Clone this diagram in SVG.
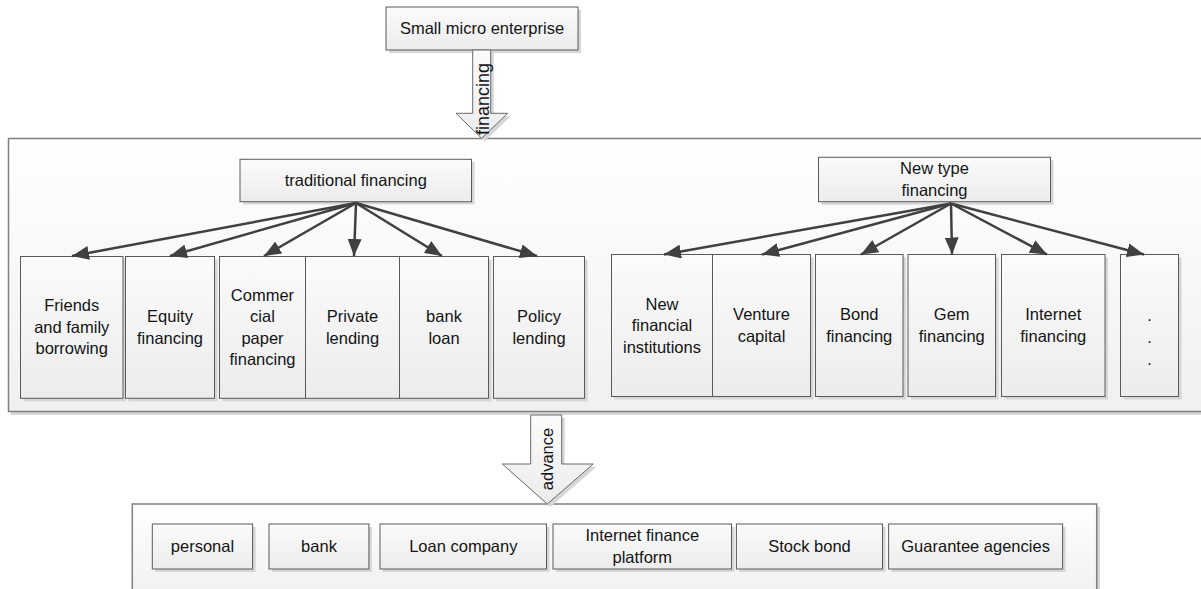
<svg xmlns="http://www.w3.org/2000/svg" width="1201" height="589" viewBox="0 0 1201 589">
<defs>
<linearGradient id="gBox" x1="0" y1="0" x2="0" y2="1">
<stop offset="0" stop-color="#fbfbfb"/><stop offset="1" stop-color="#ececec"/>
</linearGradient>
<linearGradient id="gCont" x1="0" y1="0" x2="0" y2="1">
<stop offset="0" stop-color="#ffffff"/><stop offset="1" stop-color="#f0f0f0"/>
</linearGradient>
<marker id="ah" markerWidth="17" markerHeight="14" refX="17" refY="7" orient="auto" markerUnits="userSpaceOnUse">
<path d="M0,0 L17,7 L0,14 z" fill="#404040"/>
</marker>
</defs>
<style>
.box{fill:url(#gBox);stroke:#5a5a5a;stroke-width:1}
.cont{fill:url(#gCont);stroke:#808080;stroke-width:1.5}
.sh{fill:#d6d6d6}
.blk{fill:url(#gBox);stroke:#6a6a6a;stroke-width:1}
.t{font-family:"Liberation Sans",Arial,sans-serif;font-size:16.5px;fill:#141414;text-anchor:middle}
.lbl{font-family:"Liberation Sans",Arial,sans-serif;fill:#141414;text-anchor:middle}
.con{stroke:#404040;stroke-width:2.5;fill:none;marker-end:url(#ah)}
</style>
<rect width="1201" height="589" fill="#ffffff"/>

<g id="container-financing">
<rect class="sh" x="11" y="141" width="1195" height="274"/>
<rect class="cont" x="8.5" y="138.5" width="1195" height="273"/>
</g>
<g id="container-advance">
<rect class="sh" x="135" y="507" width="965" height="90"/>
<rect class="cont" x="132.3" y="504" width="964.4" height="95"/>
</g>

<g id="node-sme">
<rect class="sh" x="389" y="10" width="192" height="43"/>
<rect class="box" x="386" y="7" width="192" height="43"/>
<text class="t" x="482" y="34">Small micro enterprise</text>
</g>

<g id="node-traditional">
<rect class="sh" x="243" y="162" width="231.5" height="42.4"/>
<rect class="box" x="240" y="159.3" width="231.5" height="42.4"/>
<text class="t" x="355.75" y="186">traditional financing</text>
</g>

<g id="node-newtype">
<rect class="sh" x="821.5" y="160.3" width="232" height="44.4"/>
<rect class="box" x="818.5" y="157.3" width="232" height="44.4"/>
<text class="t" x="934.5" y="174.3">New type</text>
<text class="t" x="934.5" y="195.8">financing</text>
</g>

<g id="node-friends">
<rect class="sh" x="23.5" y="259.5" width="102.5" height="141.8"/>
<rect class="box" x="20.5" y="256.5" width="102.5" height="141.8"/>
<text class="t" x="71.75" y="311.4">Friends</text>
<text class="t" x="71.75" y="332.9">and family</text>
<text class="t" x="71.75" y="354.4">borrowing</text>
</g>
<g id="node-equity">
<rect class="sh" x="128.5" y="259.5" width="89" height="141.8"/>
<rect class="box" x="125.5" y="256.5" width="89" height="141.8"/>
<text class="t" x="170" y="322.2">Equity</text>
<text class="t" x="170" y="343.7">financing</text>
</g>
<g id="node-commercial">
<rect class="sh" x="222.5" y="259.5" width="86" height="141.8"/>
<rect class="box" x="219.5" y="256.5" width="86" height="141.8"/>
<text class="t" x="262.5" y="300.7">Commer</text>
<text class="t" x="262.5" y="322.2">cial</text>
<text class="t" x="262.5" y="343.7">paper</text>
<text class="t" x="262.5" y="365.2">financing</text>
</g>
<g id="node-private">
<rect class="sh" x="308.5" y="259.5" width="94" height="141.8"/>
<rect class="box" x="305.5" y="256.5" width="94" height="141.8"/>
<text class="t" x="352.5" y="322.2">Private</text>
<text class="t" x="352.5" y="343.7">lending</text>
</g>
<g id="node-bankloan">
<rect class="sh" x="402.5" y="259.5" width="89" height="141.8"/>
<rect class="box" x="399.5" y="256.5" width="89" height="141.8"/>
<text class="t" x="444" y="322.2">bank</text>
<text class="t" x="444" y="343.7">loan</text>
</g>
<g id="node-policy">
<rect class="sh" x="496.5" y="259.5" width="91" height="141.8"/>
<rect class="box" x="493.5" y="256.5" width="91" height="141.8"/>
<text class="t" x="539" y="322.2">Policy</text>
<text class="t" x="539" y="343.7">lending</text>
</g>

<g id="node-newfin">
<rect class="sh" x="614.5" y="257.5" width="101" height="142"/>
<rect class="box" x="611.5" y="254.5" width="101" height="142"/>
<text class="t" x="662" y="309.5">New</text>
<text class="t" x="662" y="331">financial</text>
<text class="t" x="662" y="352.5">institutions</text>
</g>
<g id="node-venture">
<rect class="sh" x="715.5" y="257.5" width="98" height="142"/>
<rect class="box" x="712.5" y="254.5" width="98" height="142"/>
<text class="t" x="761.5" y="320.3">Venture</text>
<text class="t" x="761.5" y="341.8">capital</text>
</g>
<g id="node-bond">
<rect class="sh" x="818.5" y="257.5" width="87.5" height="142"/>
<rect class="box" x="815.5" y="254.5" width="87.5" height="142"/>
<text class="t" x="859.25" y="320.3">Bond</text>
<text class="t" x="859.25" y="341.8">financing</text>
</g>
<g id="node-gem">
<rect class="sh" x="911" y="257.5" width="87.5" height="142"/>
<rect class="box" x="908" y="254.5" width="87.5" height="142"/>
<text class="t" x="951.75" y="320.3">Gem</text>
<text class="t" x="951.75" y="341.8">financing</text>
</g>
<g id="node-internet">
<rect class="sh" x="1004.5" y="257.5" width="103.5" height="142"/>
<rect class="box" x="1001.5" y="254.5" width="103.5" height="142"/>
<text class="t" x="1053.25" y="320.3">Internet</text>
<text class="t" x="1053.25" y="341.8">financing</text>
</g>
<g id="node-more">
<rect class="sh" x="1123.5" y="257.5" width="58" height="142"/>
<rect class="box" x="1120.5" y="254.5" width="58" height="142"/>
<text class="t" x="1149.5" y="320.5">.</text>
<text class="t" x="1149.5" y="342.5">.</text>
<text class="t" x="1149.5" y="364.5">.</text>
</g>

<g id="node-personal">
<rect class="sh" x="155.3" y="527" width="100.3" height="45"/>
<rect class="box" x="152.3" y="524" width="100.3" height="45"/>
<text class="t" x="202.5" y="552">personal</text>
</g>
<g id="node-bank">
<rect class="sh" x="272" y="527" width="99.9" height="45"/>
<rect class="box" x="269" y="524" width="99.9" height="45"/>
<text class="t" x="319" y="552">bank</text>
</g>
<g id="node-loancompany">
<rect class="sh" x="383" y="527" width="166.5" height="45"/>
<rect class="box" x="380" y="524" width="166.5" height="45"/>
<text class="t" x="463.3" y="552">Loan company</text>
</g>
<g id="node-platform">
<rect class="sh" x="556" y="527" width="178.5" height="45"/>
<rect class="box" x="553" y="524" width="178.5" height="45"/>
<text class="t" x="642.3" y="541.3">Internet finance</text>
<text class="t" x="642.3" y="562.8">platform</text>
</g>
<g id="node-stockbond">
<rect class="sh" x="739.4" y="527" width="146.1" height="45"/>
<rect class="box" x="736.4" y="524" width="146.1" height="45"/>
<text class="t" x="809.5" y="552">Stock bond</text>
</g>
<g id="node-guarantee">
<rect class="sh" x="891.6" y="527" width="174" height="45"/>
<rect class="box" x="888.6" y="524" width="174" height="45"/>
<text class="t" x="975.6" y="552">Guarantee agencies</text>
</g>

<g id="connectors">
<polygon class="sh" points="475.7,53 493.7,53 493.7,116.3 510.7,116.3 484.7,141.3 459,116.3 475.7,116.3"/>
<polygon class="blk" points="472.7,50 490.7,50 490.7,113.3 507.7,113.3 481.7,138.3 456,113.3 472.7,113.3"/>
<text class="lbl" font-size="18" x="482" y="105.5" transform="rotate(-90 482 99)">financing</text>

<polygon class="sh" points="533.7,418 564.7,418 564.7,467 596.3,467 550.3,507 505.3,467 533.7,467"/>
<polygon class="blk" points="530.7,415 561.7,415 561.7,464 593.3,464 547.3,504 502.3,464 530.7,464"/>
<text class="lbl" font-size="16.5" x="547.3" y="465" transform="rotate(-90 547.3 459)">advance</text>

<line class="con" x1="356" y1="203" x2="72" y2="256"/>
<line class="con" x1="356" y1="203" x2="170" y2="256"/>
<line class="con" x1="356" y1="203" x2="264" y2="256"/>
<line class="con" x1="356" y1="203" x2="354" y2="256"/>
<line class="con" x1="356" y1="203" x2="442" y2="256"/>
<line class="con" x1="356" y1="203" x2="537" y2="256"/>

<line class="con" x1="951" y1="203.5" x2="664" y2="254.5"/>
<line class="con" x1="951" y1="203.5" x2="762" y2="254.5"/>
<line class="con" x1="951" y1="203.5" x2="861" y2="254.5"/>
<line class="con" x1="951" y1="203.5" x2="952" y2="254.5"/>
<line class="con" x1="951" y1="203.5" x2="1047" y2="254.5"/>
<line class="con" x1="951" y1="203.5" x2="1144" y2="254.5"/>
</g>
</svg>
